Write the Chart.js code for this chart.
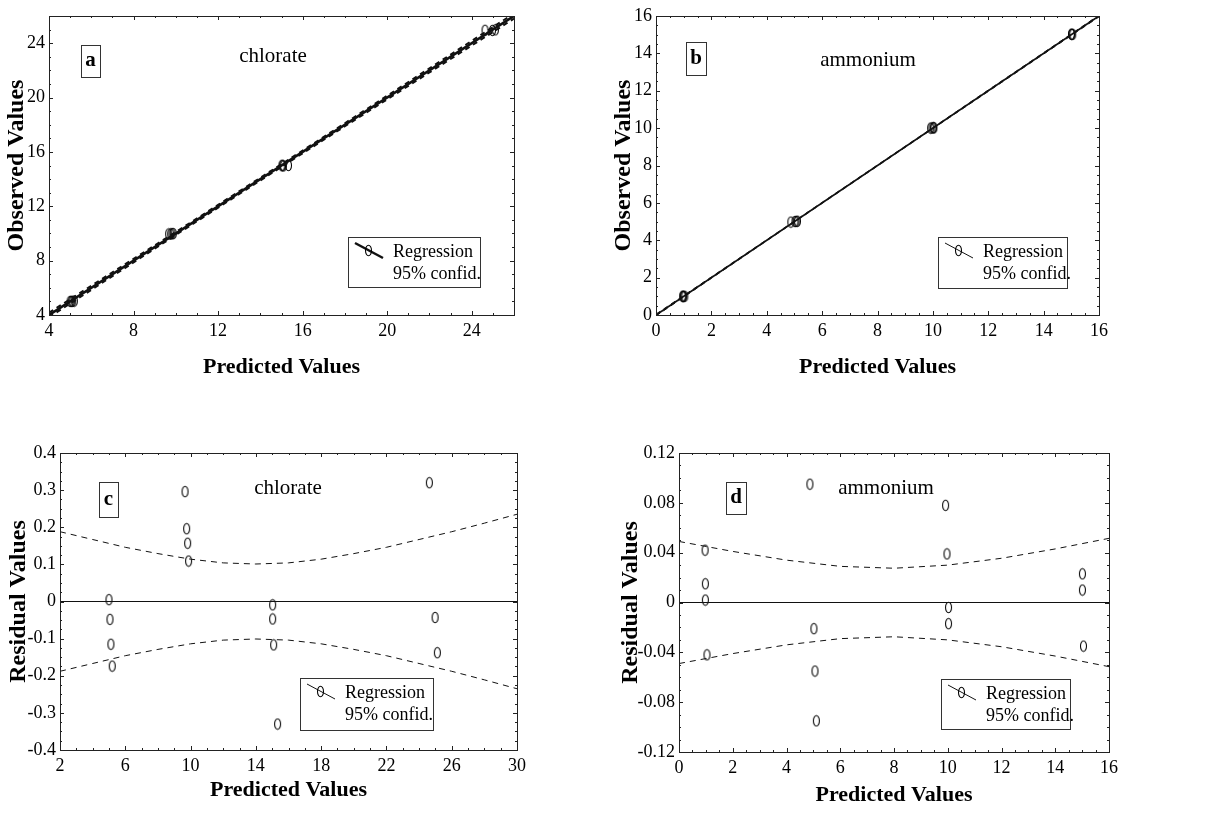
<!DOCTYPE html>
<html>
<head>
<meta charset="utf-8">
<script src="https://cdn.jsdelivr.net/npm/chart.js@4.4.1/dist/chart.umd.min.js"></script>
<style>
  body { margin: 0; background: #fff; }
  .panel { position: absolute; }
</style>
</head>
<body>
<div class="panel" style="left:0;top:0"><canvas id="chartA" width="600" height="400"></canvas></div>
<div class="panel" style="left:600px;top:0"><canvas id="chartB" width="619" height="400"></canvas></div>
<div class="panel" style="left:0;top:400px"><canvas id="chartC" width="600" height="414"></canvas></div>
<div class="panel" style="left:600px;top:400px"><canvas id="chartD" width="619" height="414"></canvas></div>
<script>
// chlorate: predicted, observed, residual
const chlPred  = [5.00, 5.06, 5.12, 5.20, 9.66, 9.76, 9.82, 9.88, 15.03, 15.03, 15.09, 15.33, 24.63, 24.98, 25.12];
const chlObs   = [5.00, 5.01, 5.00, 5.03, 9.96, 9.96, 9.98, 9.99, 15.02, 14.98, 14.97, 15.00, 24.95, 24.94, 24.98];
const chlResid = [0.005, -0.048, -0.115, -0.174, 0.296, 0.196, 0.157, 0.109, -0.009, -0.047, -0.117, -0.330, 0.320, -0.043, -0.138];

// ammonium: predicted, observed, residual
const nhPred  = [0.97, 0.98, 0.98, 1.04, 4.87, 5.02, 5.06, 5.11, 9.92, 9.97, 10.03, 10.03, 15.01, 15.01, 15.05];
const nhObs   = [1.01, 1.00, 0.98, 1.00, 4.97, 5.00, 5.01, 5.02, 10.00, 10.01, 10.03, 10.01, 15.03, 15.02, 15.02];
const nhResid = [0.042, 0.015, 0.002, -0.042, 0.095, -0.021, -0.055, -0.095, 0.078, 0.039, -0.004, -0.017, 0.023, 0.010, -0.035];

// regression lines
const aRegX = [4, 26], aRegY = [4, 26];
const bRegX = [0, 16], bRegY = [0, 16];
const cRegX = [2, 30], cRegY = [0, 0];
const dRegX = [0, 16], dRegY = [0, 0];

// 95% confidence limits
const aBandX  = [4, 6, 8, 10, 12, 14, 16, 18, 20, 22, 24, 26];
const aBandUp = [4.17, 6.15, 8.13, 10.11, 12.10, 14.10, 16.10, 18.11, 20.13, 22.15, 24.17, 26.19];
const aBandLo = [3.83, 5.85, 7.87, 9.89, 11.90, 13.90, 15.90, 17.89, 19.87, 21.85, 23.83, 25.81];
const bBandX  = [0, 2, 4, 6, 8, 10, 12, 14, 16];
const bBandUp = [0.05, 2.04, 4.03, 6.03, 8.03, 10.03, 12.04, 14.04, 16.05];
const bBandLo = [-0.05, 1.96, 3.97, 5.97, 7.97, 9.97, 11.96, 13.96, 15.95];
const cBandX  = [2, 4, 6, 8, 10, 12, 14, 16, 18, 20, 22, 24, 26, 28, 30];
const cBandUp = [0.188, 0.167, 0.146, 0.129, 0.114, 0.104, 0.101, 0.104, 0.114, 0.129, 0.146, 0.167, 0.188, 0.211, 0.235];
const cBandLo = [-0.188, -0.167, -0.146, -0.129, -0.114, -0.104, -0.101, -0.104, -0.114, -0.129, -0.146, -0.167, -0.188, -0.211, -0.235];
const dBandX  = [0, 2, 4, 6, 8, 10, 12, 14, 16];
const dBandUp = [0.049, 0.041, 0.034, 0.029, 0.0275, 0.030, 0.0355, 0.043, 0.0515];
const dBandLo = [-0.049, -0.041, -0.034, -0.029, -0.0275, -0.030, -0.0355, -0.043, -0.0515];

// ticks
const aTicks = [4, 8, 12, 16, 20, 24];
const aLabels = ['4', '8', '12', '16', '20', '24'];
const bTicks = [0, 2, 4, 6, 8, 10, 12, 14, 16];
const bLabels = ['0', '2', '4', '6', '8', '10', '12', '14', '16'];
const cXTicks = [2, 6, 10, 14, 18, 22, 26, 30];
const cXLabels = ['2', '6', '10', '14', '18', '22', '26', '30'];
const cYTicks = [-0.4, -0.3, -0.2, -0.1, 0, 0.1, 0.2, 0.3, 0.4];
const cYLabels = ['-0.4', '-0.3', '-0.2', '-0.1', '0', '0.1', '0.2', '0.3', '0.4'];
const dYTicks = [-0.12, -0.08, -0.04, 0, 0.04, 0.08, 0.12];
const dYLabels = ['-0.12', '-0.08', '-0.04', '0', '0.04', '0.08', '0.12'];

const serif = "'Liberation Serif', 'Times New Roman', serif";

// little upright oval, like the "0" markers of the original plot
const makeOval = () => {
    const c = document.createElement('canvas');
    c.width = 9; c.height = 13;
    const g = c.getContext('2d');
    g.strokeStyle = '#000';
    g.lineWidth = 1.05;
    g.beginPath();
    g.ellipse(4.5, 6.5, 3.0, 5.2, 0, 0, Math.PI * 2);
    g.stroke();
    return c;
};
const oval = makeOval();

const toPoints = (xs, ys) => xs.map((x, i) => ({ x: x, y: ys[i] }));

// frame, inside ticks, letter box, compound name, legend box
const decoPlugin = {
    id: 'deco',
    afterDraw(chart, args, o) {
        const ctx = chart.ctx;
        const a = chart.chartArea;
        const sx = chart.scales.x, sy = chart.scales.y;
        ctx.save();
        ctx.strokeStyle = '#222';
        ctx.lineWidth = 1;
        ctx.strokeRect(a.left + 0.5, a.top + 0.5, a.right - a.left, a.bottom - a.top);

        // inside ticks on all four sides
        ctx.beginPath();
        const xStep = o.minorX, yStep = o.minorY;
        for (let k = 0; sx.min + k * xStep <= sx.max + 1e-9; k++) {
            const px = Math.round(sx.getPixelForValue(sx.min + k * xStep)) + 0.5;
            const len = k % 4 === 0 ? 4 : 2;
            ctx.moveTo(px, a.bottom); ctx.lineTo(px, a.bottom - len);
            ctx.moveTo(px, a.top); ctx.lineTo(px, a.top + len);
        }
        for (let k = 0; sy.min + k * yStep <= sy.max + 1e-9; k++) {
            const py = Math.round(sy.getPixelForValue(sy.min + k * yStep)) + 0.5;
            const len = k % 4 === 0 ? 4 : 2;
            ctx.moveTo(a.left, py); ctx.lineTo(a.left + len, py);
            ctx.moveTo(a.right, py); ctx.lineTo(a.right - len, py);
        }
        ctx.stroke();

        // panel letter in a box
        const [lx, ly, lw, lh] = o.letterBox;
        ctx.strokeStyle = '#333';
        ctx.strokeRect(lx + 0.5, ly + 0.5, lw, lh);
        ctx.fillStyle = '#000';
        ctx.textAlign = 'center';
        ctx.textBaseline = 'middle';
        ctx.font = 'bold 21px ' + serif;
        ctx.fillText(o.letter, lx + lw / 2, ly + lh / 2);

        // compound name
        ctx.font = '21px ' + serif;
        ctx.fillText(o.name, o.nameAt[0], o.nameAt[1]);

        // legend
        const [bx, by, bw, bh] = o.legendBox;
        ctx.strokeRect(bx + 0.5, by + 0.5, bw, bh);
        ctx.beginPath();
        ctx.lineWidth = o.thickIcon ? 2.5 : 1;
        ctx.strokeStyle = '#111';
        ctx.moveTo(bx + 7, by + 6);
        ctx.lineTo(bx + 35, by + 21);
        ctx.stroke();
        ctx.drawImage(oval, bx + 16, by + 7);
        ctx.textAlign = 'left';
        ctx.font = '18px ' + serif;
        ctx.fillText('Regression', bx + 45, by + 15);
        ctx.fillText('95% confid.', bx + 45, by + 37);
        ctx.restore();
    }
};

const axis = (min, max, ticks, labels, fit, title, titlePad, horizontal) => ({
    type: 'linear',
    min: min,
    max: max,
    afterBuildTicks: s => { s.ticks = ticks.map(v => ({ value: v })); },
    afterFit: s => { if (horizontal) s.height = fit; else s.width = fit; },
    grid: { display: false, drawTicks: false },
    border: { display: false },
    ticks: {
        color: '#000',
        font: { family: serif, size: 18 },
        padding: horizontal ? 5 : 4,
        autoSkip: false,
        maxRotation: 0,
        callback: (v, i) => labels[i]
    },
    title: {
        display: true,
        text: title,
        color: '#000',
        font: { family: serif, size: horizontal ? 22 : 24, weight: 'bold' },
        padding: titlePad
    }
});

const makeChart = (id, cfg) => new Chart(document.getElementById(id), {
    type: 'scatter',
    data: { datasets: cfg.datasets },
    options: {
        responsive: false,
        animation: false,
        devicePixelRatio: 1,
        layout: { padding: cfg.pad },
        plugins: { legend: { display: false }, tooltip: { enabled: false }, deco: cfg.deco },
        scales: { x: cfg.x, y: cfg.y }
    },
    plugins: [decoPlugin]
});

const lineSet = (xs, ys, width, dash) => ({
    data: toPoints(xs, ys),
    showLine: true,
    pointRadius: 0,
    borderColor: '#111',
    borderWidth: width,
    borderDash: dash,
    tension: 0
});
const pointSet = (xs, ys) => ({
    data: toPoints(xs, ys),
    showLine: false,
    pointStyle: oval,
    pointRadius: 5,
    borderColor: '#000'
});

// a: chlorate observed vs predicted
makeChart('chartA', {
    pad: { left: 0, top: 16, right: 86, bottom: 0 },
    x: axis(4, 26, aTicks, aLabels, 85, 'Predicted Values', { top: 0, bottom: 19 }, true),
    y: axis(4, 26, aTicks, aLabels, 49, 'Observed Values', { top: 2, bottom: 0 }, false),
    datasets: [
        lineSet(aRegX, aRegY, 2.6, []),
        lineSet(aBandX, aBandUp, 2, [5, 4]),
        lineSet(aBandX, aBandLo, 2, [5, 4]),
        pointSet(chlPred, chlObs)
    ],
    deco: { letter: 'a', name: 'chlorate', letterBox: [81, 45, 19, 32], nameAt: [273, 56],
            legendBox: [348, 237, 132, 50], thickIcon: true, minorX: 1, minorY: 1 }
});

// b: ammonium observed vs predicted
makeChart('chartB', {
    pad: { left: 0, top: 16, right: 120, bottom: 0 },
    x: axis(0, 16, bTicks, bLabels, 85, 'Predicted Values', { top: 0, bottom: 19 }, true),
    y: axis(0, 16, bTicks, bLabels, 56, 'Observed Values', { top: 9, bottom: 0 }, false),
    datasets: [
        lineSet(bRegX, bRegY, 1.8, []),
        lineSet(bBandX, bBandUp, 1, [5, 4]),
        lineSet(bBandX, bBandLo, 1, [5, 4]),
        pointSet(nhPred, nhObs)
    ],
    deco: { letter: 'b', name: 'ammonium', letterBox: [86, 42, 20, 33], nameAt: [268, 60],
            legendBox: [338, 237, 129, 51], thickIcon: false, minorX: 0.5, minorY: 0.5 }
});

// c: chlorate residuals
makeChart('chartC', {
    pad: { left: 0, top: 53, right: 83, bottom: 0 },
    x: axis(2, 30, cXTicks, cXLabels, 64, 'Predicted Values', { top: 0, bottom: 10 }, true),
    y: axis(-0.4, 0.4, cYTicks, cYLabels, 60, 'Residual Values', { top: 4, bottom: 0 }, false),
    datasets: [
        lineSet(cRegX, cRegY, 1.2, []),
        lineSet(cBandX, cBandUp, 1, [6, 5]),
        lineSet(cBandX, cBandLo, 1, [6, 5]),
        pointSet(chlPred, chlResid)
    ],
    deco: { letter: 'c', name: 'chlorate', letterBox: [99, 82, 19, 35], nameAt: [288, 88],
            legendBox: [300, 278, 133, 52], thickIcon: false, minorX: 1, minorY: 0.025 }
});

// d: ammonium residuals
makeChart('chartD', {
    pad: { left: 0, top: 53, right: 110, bottom: 0 },
    x: axis(0, 16, bTicks, bLabels, 62, 'Predicted Values', { top: 0, bottom: 5 }, true),
    y: axis(-0.12, 0.12, dYTicks, dYLabels, 79, 'Residual Values', { top: 16, bottom: 0 }, false),
    datasets: [
        lineSet(dRegX, dRegY, 1.2, []),
        lineSet(dBandX, dBandUp, 1, [6, 5]),
        lineSet(dBandX, dBandLo, 1, [6, 5]),
        pointSet(nhPred, nhResid)
    ],
    deco: { letter: 'd', name: 'ammonium', letterBox: [126, 82, 20, 32], nameAt: [286, 88],
            legendBox: [341, 279, 129, 50], thickIcon: false, minorX: 0.5, minorY: 0.01 }
});
</script>
</body>
</html>
